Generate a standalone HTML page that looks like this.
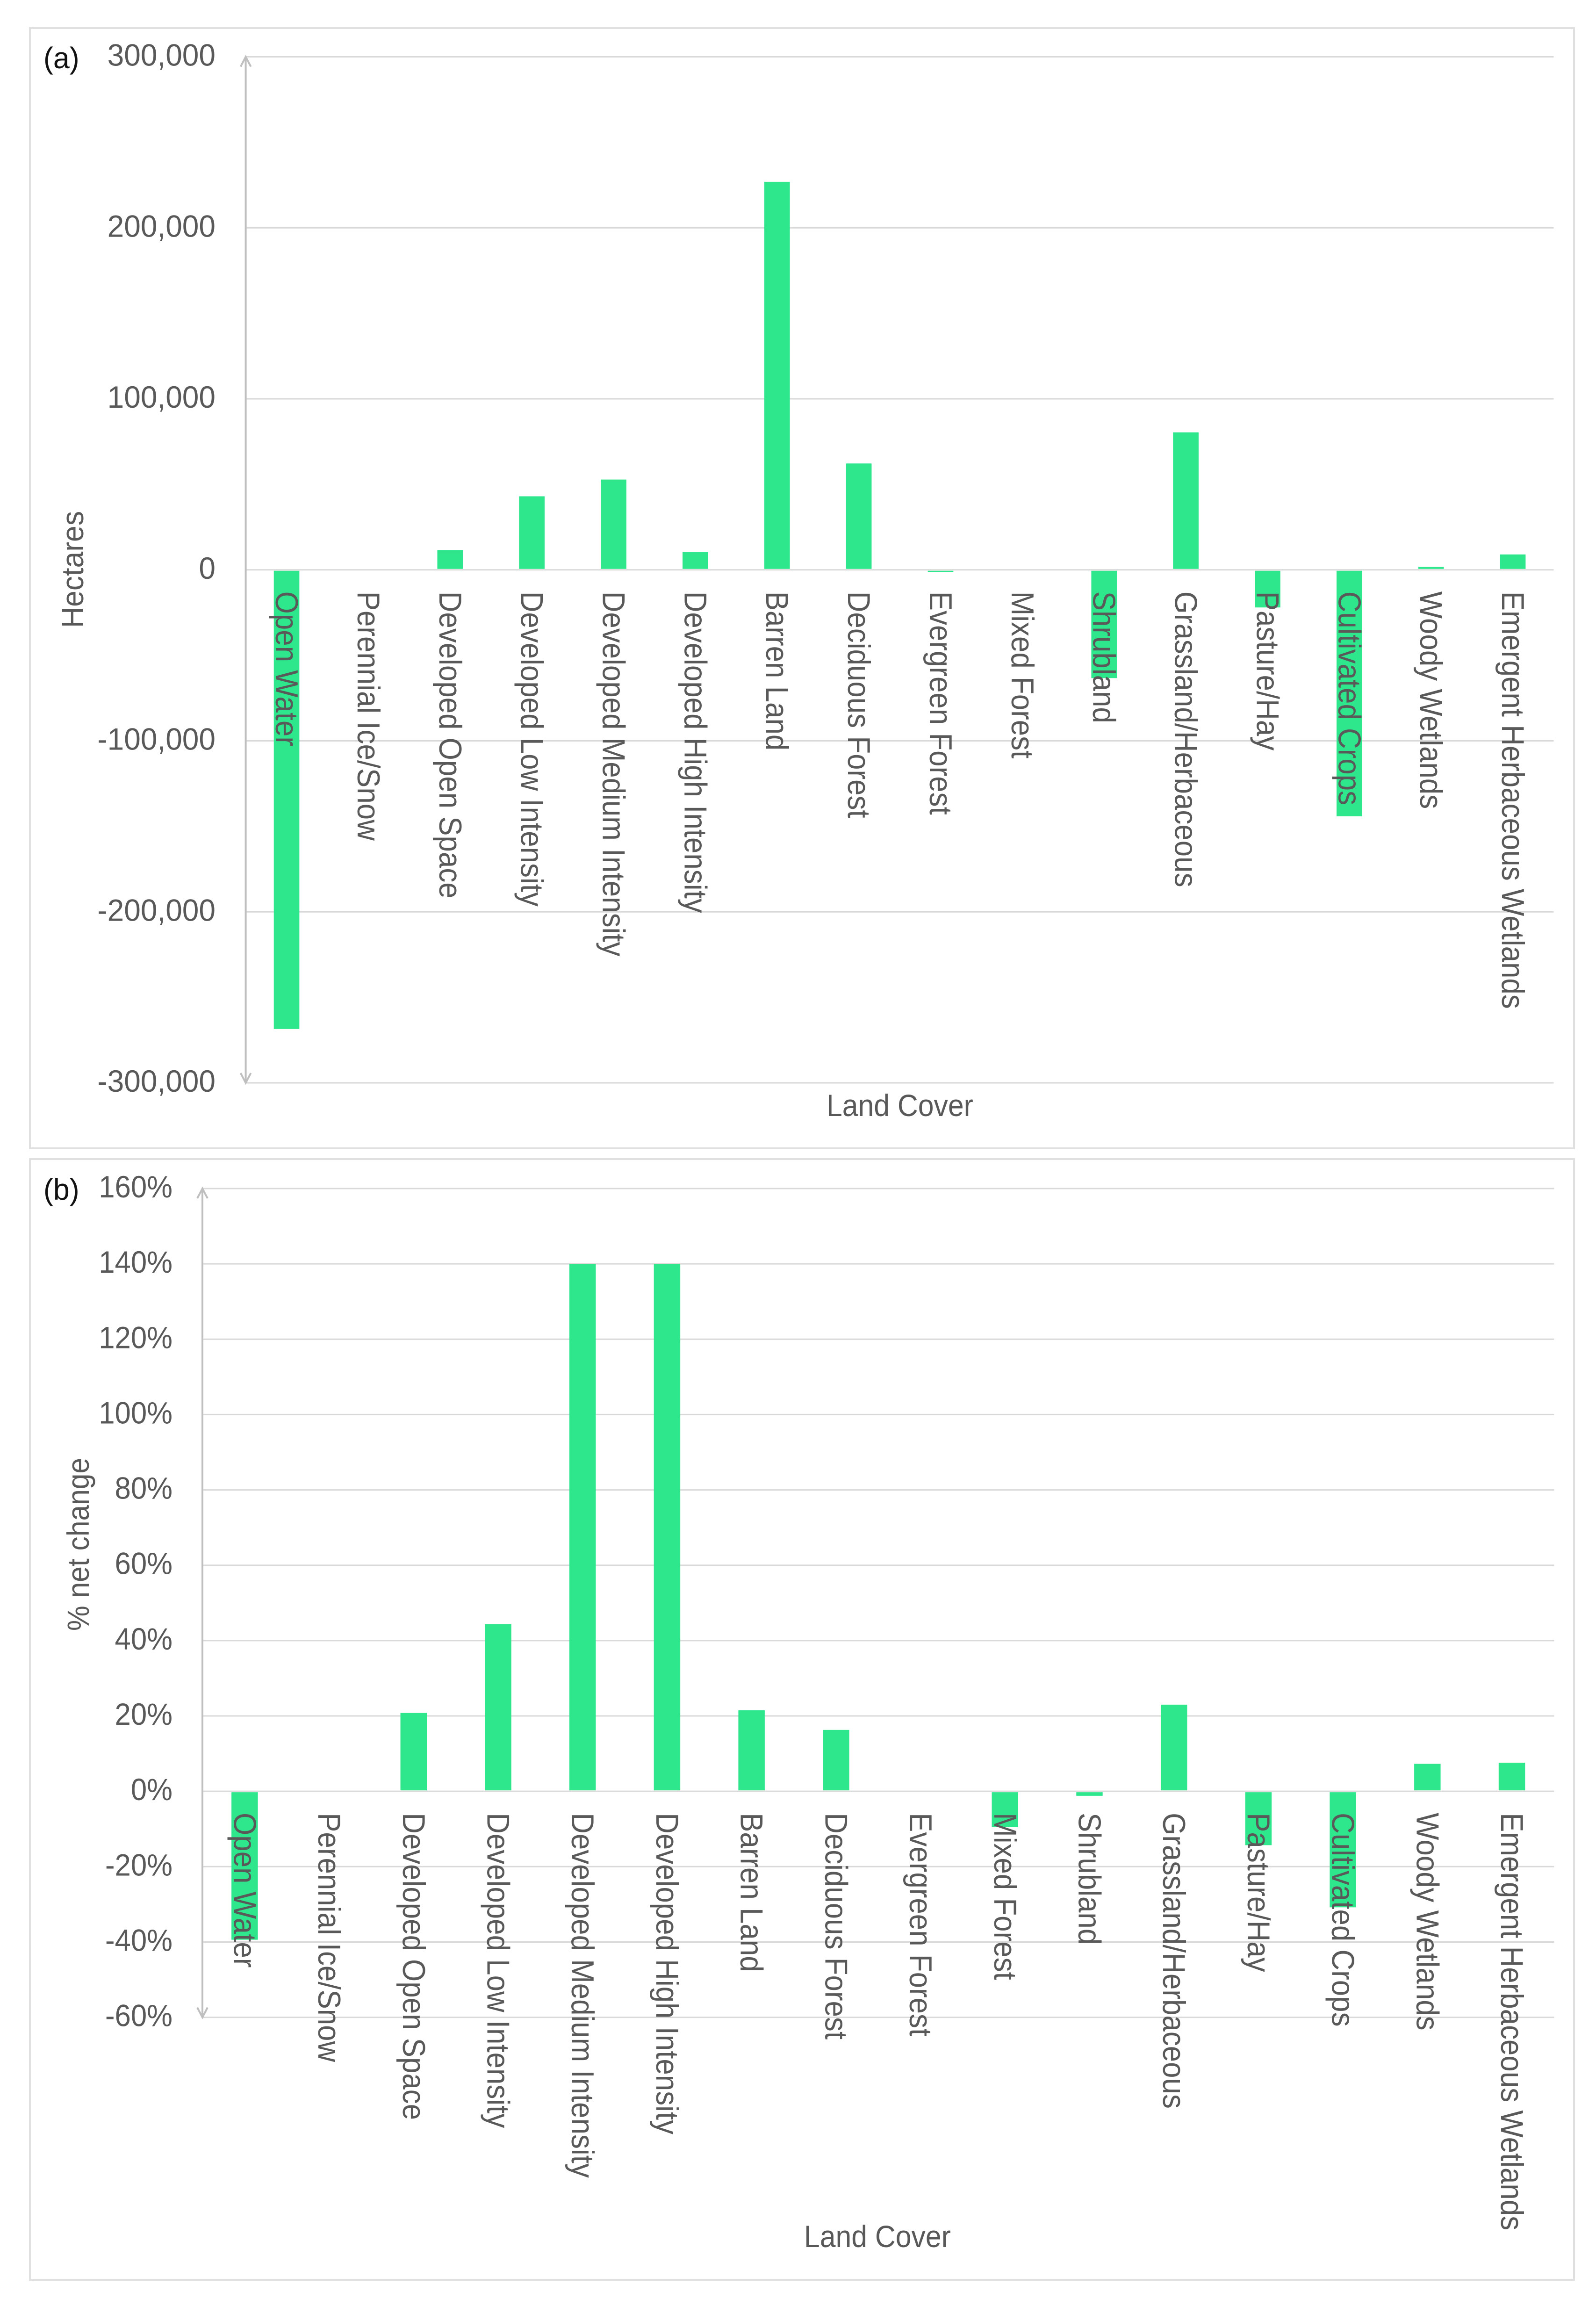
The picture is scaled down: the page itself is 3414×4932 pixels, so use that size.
<!DOCTYPE html>
<html lang="en">
<head>
<meta charset="utf-8">
<title>Land cover net change charts</title>
<style>
  html, body { margin: 0; padding: 0; background: #ffffff; }
  body { width: 3414px; height: 4932px; overflow: hidden; }
  svg { display: block; }
  text { font-family: "Liberation Sans", sans-serif; fill: #595959; }
</style>
</head>
<body>
<svg id="chart-root" xmlns="http://www.w3.org/2000/svg" width="3414" height="4932" viewBox="0 0 3414 4932">
  <rect x="0" y="0" width="3414" height="4932" fill="#ffffff"/>

  <rect x="64" y="60" width="3303" height="2396" fill="#ffffff" stroke="#e0e0e0" stroke-width="4"/>
  <rect x="64" y="2479" width="3303" height="2397" fill="#ffffff" stroke="#e0e0e0" stroke-width="4"/>

  <g id="panel-a"></g>
  <g id="panel-b"></g>

  <text transform="translate(93,146) scale(.98,1)" font-size="64" style="fill:#111111">(a)</text>
  <text transform="translate(93,2566) scale(.98,1)" font-size="64" style="fill:#111111">(b)</text>

  <text transform="translate(178,1343) rotate(-90) scale(.947,1)" font-size="66">Hectares</text>
  <text transform="translate(190,3488) rotate(-90) scale(.917,1)" font-size="66">% net change</text>

  <text transform="translate(1768,2387) scale(.92,1)" font-size="66">Land Cover</text>
  <text transform="translate(1720,4806) scale(.92,1)" font-size="66">Land Cover</text>
</svg>

<script>
const categories = ["Open Water", "Perennial Ice/Snow", "Developed Open Space", "Developed Low Intensity", "Developed Medium Intensity", "Developed High Intensity", "Barren Land", "Deciduous Forest", "Evergreen Forest", "Mixed Forest", "Shrubland", "Grassland/Herbaceous", "Pasture/Hay", "Cultivated Crops", "Woody Wetlands", "Emergent Herbaceous Wetlands"];
const hectareValues = [-268500, 0, 11600, 43000, 52800, 10400, 226900, 62200, -1200, 0, -63300, 80400, -22000, -144100, 1700, 9000];
const percentValues = [-39.4, 0, 20.8, 44.4, 140, 140, 21.5, 16.3, 0, -9.5, -1.2, 23, -14.3, -30.8, 7.3, 7.6];
const hectareTicks = [300000, 200000, 100000, 0, -100000, -200000, -300000];
const hectareTickLabels = ["300,000", "200,000", "100,000", "0", "-100,000", "-200,000", "-300,000"];
const percentTicks = [160, 140, 120, 100, 80, 60, 40, 20, 0, -20, -40, -60];
const percentTickLabels = ["160%", "140%", "120%", "100%", "80%", "60%", "40%", "20%", "0%", "-20%", "-40%", "-60%"];

const SVG_NS = "http://www.w3.org/2000/svg";

function mk(tag, parent) {
  const el = document.createElementNS(SVG_NS, tag);
  parent.appendChild(el);
  return el;
}

function slug(s) {
  return s.toLowerCase().replace(/[^a-z0-9]+/g, "-").replace(/^-|-$/g, "");
}

function drawPanel(cfg) {
  const g = document.getElementById(cfg.id);
  const domMax = Math.max.apply(null, cfg.ticks);
  const domMin = Math.min.apply(null, cfg.ticks);
  const yScale = function (v) {
    return cfg.top + (domMax - v) / (domMax - domMin) * (cfg.bottom - cfg.top);
  };
  const step = (cfg.right - cfg.left) / categories.length;
  const xCenter = function (i) {
    return cfg.left + step * (i + 0.5);
  };
  const barWidth = step / 3.2;
  const zero = yScale(0);
  const barGap = 2;

  cfg.ticks.forEach(function (t, i) {
    const line = mk("line", g);
    
    
    line.setAttribute("x1", cfg.left);
    line.setAttribute("x2", cfg.right);
    line.setAttribute("y1", yScale(t));
    line.setAttribute("y2", yScale(t));
    line.setAttribute("stroke", "#d9d9d9");
    line.setAttribute("stroke-width", "3");

    const label = mk("text", g);
    
    
    label.setAttribute("transform", "translate(" + cfg.tickX + "," + (yScale(t) + 19) + ") scale(" + cfg.tickScale + ",1)");
    label.setAttribute("text-anchor", "end");
    label.setAttribute("font-size", "66");
    label.textContent = cfg.tickLabels[i];
  });

  cfg.values.forEach(function (v, i) {
    if (v === 0) { return; }
    const yv = yScale(v);
    const bar = mk("rect", g);
    
    
    bar.setAttribute("x", xCenter(i) - barWidth / 2);
    bar.setAttribute("width", barWidth);
    bar.setAttribute("y", v > 0 ? yv : zero + barGap);
    bar.setAttribute("height", Math.max(1, Math.abs(yv - zero) - barGap));
    bar.setAttribute("fill", "#2ee68c");
  });

  const axisV = mk("path", g);
  
  
  axisV.setAttribute("d",
    "M" + cfg.left + " " + cfg.top + "V" + cfg.bottom +
    "M" + (cfg.left - 11) + " " + (cfg.top + 21) + "L" + cfg.left + " " + cfg.top + "L" + (cfg.left + 11) + " " + (cfg.top + 21) +
    "M" + (cfg.left - 11) + " " + (cfg.bottom - 21) + "L" + cfg.left + " " + cfg.bottom + "L" + (cfg.left + 11) + " " + (cfg.bottom - 21));
  axisV.setAttribute("fill", "none");
  axisV.setAttribute("stroke", "#bfbfbf");
  axisV.setAttribute("stroke-width", "4");

  categories.forEach(function (c, i) {
    const label = mk("text", g);
    
    
    label.setAttribute("transform", "translate(" + (xCenter(i) - 23) + "," + (zero + 46) + ") rotate(90) scale(.91,1)");
    label.setAttribute("font-size", "68");
    label.textContent = c;
  });
}

drawPanel({
  id: "panel-a", prefix: "panel-a",
  values: hectareValues, ticks: hectareTicks, tickLabels: hectareTickLabels,
  left: 525.6, right: 3323.5, top: 121.5, bottom: 2316,
  tickX: 461, tickScale: 0.97
});

drawPanel({
  id: "panel-b", prefix: "panel-b",
  values: percentValues, ticks: percentTicks, tickLabels: percentTickLabels,
  left: 433, right: 3324.4, top: 2542, bottom: 4314.6,
  tickX: 369, tickScale: 0.935
});
</script>
</body>
</html>
